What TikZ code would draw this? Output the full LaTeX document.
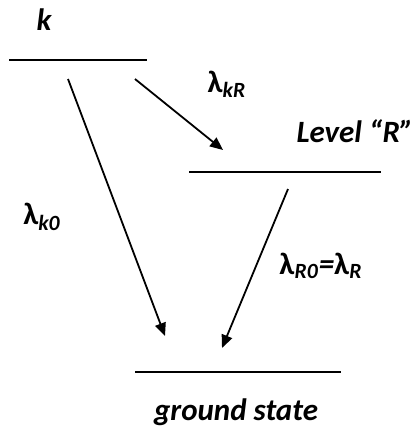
\documentclass[tikz,border=0pt]{standalone}
\usepackage{fontspec}
\setmainfont{Carlito}
\usepackage{tikz}
\usetikzlibrary{arrows.meta}
\newcommand{\lam}[1]{{\upshape λ}\textsubscript{\itshape #1}}

\begin{document}
\begin{tikzpicture}[x=0.5pt, y=-0.5pt,
      lvl/.style={line width=1pt, draw=black},
      lbl/.style={font=\fontsize{15.5}{18}\selectfont\bfseries\itshape, inner sep=0pt},
      arr/.style={-{Triangle[length=6.5pt, width=5.5pt]}, line width=0.9pt}]
    \useasboundingbox (0,0) rectangle (417,428);

    % levels
    \coordinate (kL) at (9,60);    \coordinate (kR) at (147,60);
    \coordinate (rL) at (189,172); \coordinate (rR) at (381,172);
    \coordinate (gL) at (135,372); \coordinate (gR) at (341,372);
    \draw[lvl] (kL) -- (kR);
    \draw[lvl] (rL) -- (rR);
    \draw[lvl] (gL) -- (gR);

    \node[lbl] (klab) at (44,20) {k};
    \node[lbl] (rlab) at (355,131) {Level “R”};
    \node[lbl] (glab) at (236,412) {ground state};

    % transitions
    \coordinate (a1) at (135,79);  \coordinate (a2) at (223,150);
    \coordinate (b1) at (68,79);   \coordinate (b2) at (165,336);
    \coordinate (c1) at (288,189); \coordinate (c2) at (222,348);
    \draw[arr] (a1) -- (a2);
    \draw[arr] (b1) -- (b2);
    \draw[arr] (c1) -- (c2);

    \node[lbl] (lkr) at (227,84) {\lam{kR}};
    \node[lbl] (lk0) at (42,217) {\lam{k0}};
    \node[lbl] (lr0) at (321,266) {\lam{R0}={\upshape λ}\textsubscript{\itshape R}};
\end{tikzpicture}
\end{document}
